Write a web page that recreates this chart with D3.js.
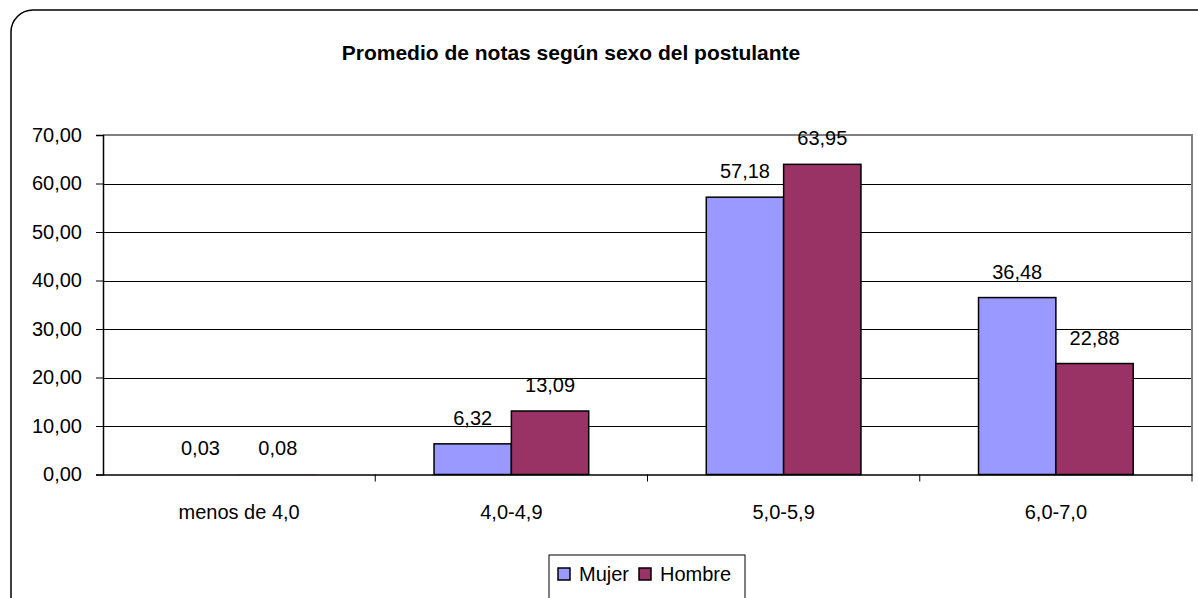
<!DOCTYPE html>
<html>
<head>
<meta charset="utf-8">
<script src="https://cdn.jsdelivr.net/npm/d3@7"></script>
<style>
	body { margin: 0; background: #fff; }
	text { font-family: "Liberation Sans", Arial, sans-serif; }
</style>
</head>
<body>
<svg id="chart" width="1198" height="598"></svg>
<script>
var categorias = ["menos de 4,0", "4,0-4,9", "5,0-5,9", "6,0-7,0"];
var series = ["Mujer", "Hombre"];
var mujer = [0.03, 6.32, 57.18, 36.48];
var hombre = [0.08, 13.09, 63.95, 22.88];
var yTicks = [0, 10, 20, 30, 40, 50, 60, 70];
var colores = ["#9999ff", "#993366"];

var svg = d3.select("#chart");
var fmt = function(v) { return d3.format(".2f")(v).replace(".", ","); };

// marco redondeado (se sale por la derecha y abajo)
svg.append("rect")
	.attr("x", 11)
	.attr("y", 10)
	.attr("width", 1210)
	.attr("height", 620)
	.attr("rx", 22)
	.attr("fill", "white")
	.attr("stroke", "#000")
	.attr("stroke-width", 1.5);

svg.append("text")
	.attr("x", 571)
	.attr("y", 60)
	.attr("text-anchor", "middle")
	.attr("font-weight", "bold")
	.attr("font-size", 21)
	.text("Promedio de notas según sexo del postulante");

var pLeft = 103, pRight = 1192, pTop = 135, pBottom = 474.5;

var x = d3.scaleBand().domain(categorias).range([pLeft, pRight]);
var x1 = d3.scaleBand().domain(series).range([0, x.bandwidth()]).paddingOuter(0.76);
var y = d3.scaleLinear().domain([0, 70]).range([pBottom, pTop]);

// grilla
svg.append("g").selectAll("line")
	.data(yTicks.slice(1, -1))
	.join("line")
	.attr("x1", pLeft).attr("x2", pRight)
	.attr("y1", function(d) { return Math.round(y(d)) + 0.5; })
	.attr("y2", function(d) { return Math.round(y(d)) + 0.5; })
	.attr("stroke", "#000")
	.attr("stroke-width", 1);

// borde del area de trazado
svg.append("path")
	.attr("d", "M" + pLeft + "," + y(70) + "H" + pRight + "V" + (pBottom + 7))
	.attr("fill", "none")
	.attr("stroke", "#808080")
	.attr("stroke-width", 2);

// barras
var datos = categorias.map(function(c, i) {
	return [{ cat: c, s: "Mujer", v: mujer[i] }, { cat: c, s: "Hombre", v: hombre[i] }];
});
var grupos = svg.append("g").selectAll("g")
	.data(datos)
	.join("g")
	.attr("transform", function(d) { return "translate(" + x(d[0].cat) + ",0)"; });

grupos.selectAll("rect")
	.data(function(d) { return d; })
	.join("rect")
	.attr("x", function(d) { return x1(d.s); })
	.attr("y", function(d) { return y(d.v); })
	.attr("width", x1.bandwidth())
	.attr("height", function(d) { return y(0) - y(d.v); })
	.attr("fill", function(d) { return colores[series.indexOf(d.s)]; })
	.attr("stroke", "#000")
	.attr("stroke-width", function(d) { return (y(0) - y(d.v)) < 1 ? 0 : 1.5; });

grupos.selectAll("text")
	.data(function(d) { return d; })
	.join("text")
	.attr("x", function(d) { return x1(d.s) + x1.bandwidth() / 2; })
	.attr("y", function(d) { return y(d.v) - 19; })
	.attr("text-anchor", "middle")
	.attr("font-size", 20)
	.attr("fill", "#000")
	.text(function(d) { return fmt(d.v); });

// ejes
var yAxis = d3.axisLeft(y).tickValues(yTicks).tickFormat(fmt).tickSizeOuter(0).tickSize(7).tickPadding(14);
var gy = svg.append("g").attr("transform", "translate(" + pLeft + ",0)").call(yAxis);
gy.selectAll("text").attr("font-size", 20).attr("fill", "#000").style("font-family", "Liberation Sans, Arial, sans-serif");
gy.select(".domain").attr("stroke", "#000").attr("stroke-width", 1.5);

var xAxis = d3.axisBottom(x).tickSize(0).tickPadding(30).tickSizeOuter(0);
var gx = svg.append("g").attr("transform", "translate(0," + pBottom + ")").call(xAxis);
gx.selectAll("text").attr("font-size", 20).attr("fill", "#000").style("font-family", "Liberation Sans, Arial, sans-serif");
gx.select(".domain").attr("stroke", "#000").attr("stroke-width", 1.5);
gx.selectAll(".tick line").remove();
// marcas entre categorias
svg.append("g").selectAll("line")
	.data(categorias.slice(0, -1))
	.join("line")
	.attr("x1", function(d) { return x(d) + x.bandwidth(); })
	.attr("x2", function(d) { return x(d) + x.bandwidth(); })
	.attr("y1", pBottom)
	.attr("y2", pBottom + 7)
	.attr("stroke", "#000");

// leyenda
var leg = svg.append("g").attr("transform", "translate(549,555)");
leg.append("rect")
	.attr("width", 196)
	.attr("height", 50)
	.attr("fill", "white")
	.attr("stroke", "#000")
	.attr("stroke-width", 1);
var itemX = [9, 90];
series.forEach(function(s, i) {
	leg.append("rect")
		.attr("x", itemX[i])
		.attr("y", 13)
		.attr("width", 12)
		.attr("height", 12)
		.attr("fill", colores[i])
		.attr("stroke", "#000")
		.attr("stroke-width", 1.5);
	leg.append("text")
		.attr("x", itemX[i] + 21)
		.attr("y", 26)
		.attr("font-size", 20)
		.text(s);
});
</script>
</body>
</html>
